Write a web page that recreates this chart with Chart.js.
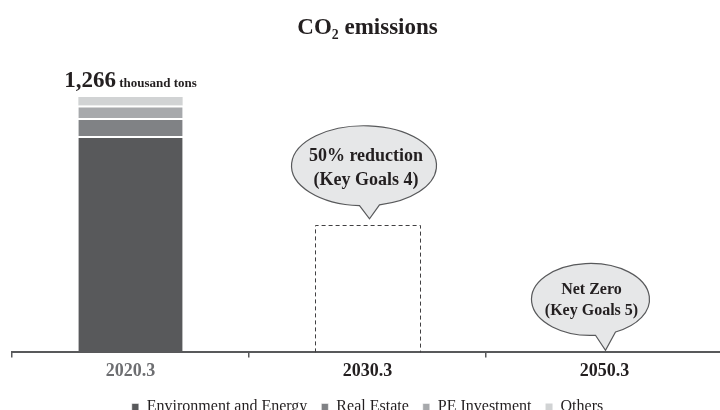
<!DOCTYPE html>
<html>
<head>
<meta charset="utf-8">
<script src="https://cdn.jsdelivr.net/npm/chart.js@4"></script>
<style>
  html, body { margin: 0; padding: 0; background: #fff; overflow: hidden; }
  #wrap { width: 730px; height: 425px; position: relative; }
</style>
</head>
<body>
<div id="wrap"><canvas id="grafico"></canvas></div>
<script>
// Dados (mil toneladas de CO2)
const categorias = ['2020.3', '2030.3', '2050.3'];
const energiaAmbiente = [1073, null, null];
const imobiliario = [89, null, null];
const investimentoPE = [62, null, null];
const outros = [42, null, null];
const metas = [null, 633, 0];
const textosMetas = [null, ['50% reduction', '(Key Goals 4)'], ['Net Zero', '(Key Goals 5)']];
const coresTicks = ['#6d6e71', '#231f20', '#231f20'];

const FONTE = "'Liberation Serif', 'Times New Roman', serif";

// Caixa tracejada da meta + balões de texto
const pluginMetas = {
  id: 'metas',
  afterDatasetsDraw(chart) {
    const meta = chart.getDatasetMeta(4);
    const ctx = chart.ctx;
    const balao = [null,
      { dx: 2, dy: -6, cx: -5.5, cy: -53, rx: 72.5, ry: 40, fonte: 18, linhas: [-9, 15], tx: 2 },
      { dx: 1, dy: -2, cx: -15, cy: -51, rx: 59, ry: 36, fonte: 16, linhas: [-10, 11], tx: 1 }
    ];
    meta.data.forEach((el, i) => {
      if (metas[i] === null) return;
      // caixa tracejada
      if (metas[i] > 0) {
        ctx.save();
        ctx.setLineDash([4, 3]);
        ctx.strokeStyle = '#414042';
        ctx.lineWidth = 1;
        const l = Math.round(el.x - el.width / 2) + 0.5;
        const r = Math.round(el.x + el.width / 2) + 0.5;
        const t = Math.round(el.y) + 0.5;
        ctx.beginPath();
        ctx.moveTo(l, el.base);
        ctx.lineTo(l, t);
        ctx.lineTo(r, t);
        ctx.lineTo(r, el.base);
        ctx.stroke();
        ctx.restore();
      }
      // balão
      const b = balao[i];
      const px = el.x + b.dx, py = el.y + b.dy;
      const cx = px + b.cx, cy = py + b.cy;
      const a1 = Math.acos(Math.max(-1, Math.min(1, (px - 10 - cx) / b.rx)));
      const a2 = Math.acos(Math.max(-1, Math.min(1, (px + 10 - cx) / b.rx)));
      ctx.save();
      ctx.beginPath();
      ctx.ellipse(cx, cy, b.rx, b.ry, 0, a1, a2 + Math.PI * 2);
      ctx.lineTo(px, py);
      ctx.closePath();
      ctx.fillStyle = '#e6e7e8';
      ctx.fill();
      ctx.strokeStyle = '#58595b';
      ctx.lineWidth = 1.2;
      ctx.stroke();
      ctx.fillStyle = '#231f20';
      ctx.font = `bold ${b.fonte}px ${FONTE}`;
      ctx.textAlign = 'center';
      ctx.textBaseline = 'middle';
      textosMetas[i].forEach((txt, k) => ctx.fillText(txt, cx + b.tx, cy + b.linhas[k]));
      ctx.restore();
    });

    // rótulo do total da barra empilhada
    const topo = chart.getDatasetMeta(3).data[0];
    const total = energiaAmbiente[0] + imobiliario[0] + investimentoPE[0] + outros[0];
    const numero = total.toLocaleString('en-US');
    const unidade = ' thousand tons';
    ctx.save();
    ctx.fillStyle = '#231f20';
    ctx.textBaseline = 'alphabetic';
    ctx.font = `bold 23px ${FONTE}`;
    const w1 = ctx.measureText(numero).width;
    ctx.font = `bold 13px ${FONTE}`;
    const w2 = ctx.measureText(unidade).width;
    const x0 = topo.x - (w1 + w2) / 2;
    const y0 = topo.y - 10;
    ctx.font = `bold 23px ${FONTE}`;
    ctx.fillText(numero, x0, y0);
    ctx.font = `bold 13px ${FONTE}`;
    ctx.fillText(unidade, x0 + w1, y0);
    ctx.restore();
  }
};

const segmento = (label, data, cor, topo) => ({
  label, data,
  backgroundColor: cor,
  borderColor: '#ffffff',
  borderWidth: topo ? 0 : { top: 2 },
  borderSkipped: false
});

new Chart(document.getElementById('grafico'), {
  type: 'bar',
  data: {
    labels: categorias,
    datasets: [
      segmento('Environment and Energy', energiaAmbiente, '#58595b'),
      segmento('Real Estate', imobiliario, '#808285'),
      segmento('PE Investment', investimentoPE, '#a7a9ac'),
      segmento('Others', outros, '#d1d3d4', true),
      { label: 'meta', data: metas, backgroundColor: 'rgba(0,0,0,0)', borderWidth: 0 }
    ]
  },
  options: {
    responsive: true,
    maintainAspectRatio: false,
    animation: false,
    events: [],
    barPercentage: 0.44,
    categoryPercentage: 1,
    layout: { padding: { left: 12, right: 7, top: 0, bottom: 0 } },
    plugins: {
      title: {
        display: true,
        text: 'CO₂ emissions',
        color: '#231f20',
        font: { family: FONTE, size: 23, weight: 'bold', lineHeight: 1.2 },
        padding: { top: 14, bottom: 18.4 }
      },
      legend: {
        position: 'bottom',
        labels: {
          filter: item => item.datasetIndex < 4,
          boxWidth: 7,
          boxHeight: 7,
          padding: 14,
          color: '#231f20',
          font: { family: FONTE, size: 16 }
        }
      },
      tooltip: { enabled: false }
    },
    scales: {
      x: {
        stacked: true,
        grid: { drawOnChartArea: false, tickLength: 5, color: '#58595b', lineWidth: 1.5 },
        border: { display: true, color: '#58595b', width: 2 },
        ticks: {
          padding: 3,
          color: coresTicks,
          font: { family: FONTE, size: 18, weight: 'bold', lineHeight: 1.2 }
        }
      },
      y: {
        stacked: true,
        display: false,
        min: 0,
        max: 1450
      }
    }
  },
  plugins: [pluginMetas]
});
</script>
</body>
</html>
